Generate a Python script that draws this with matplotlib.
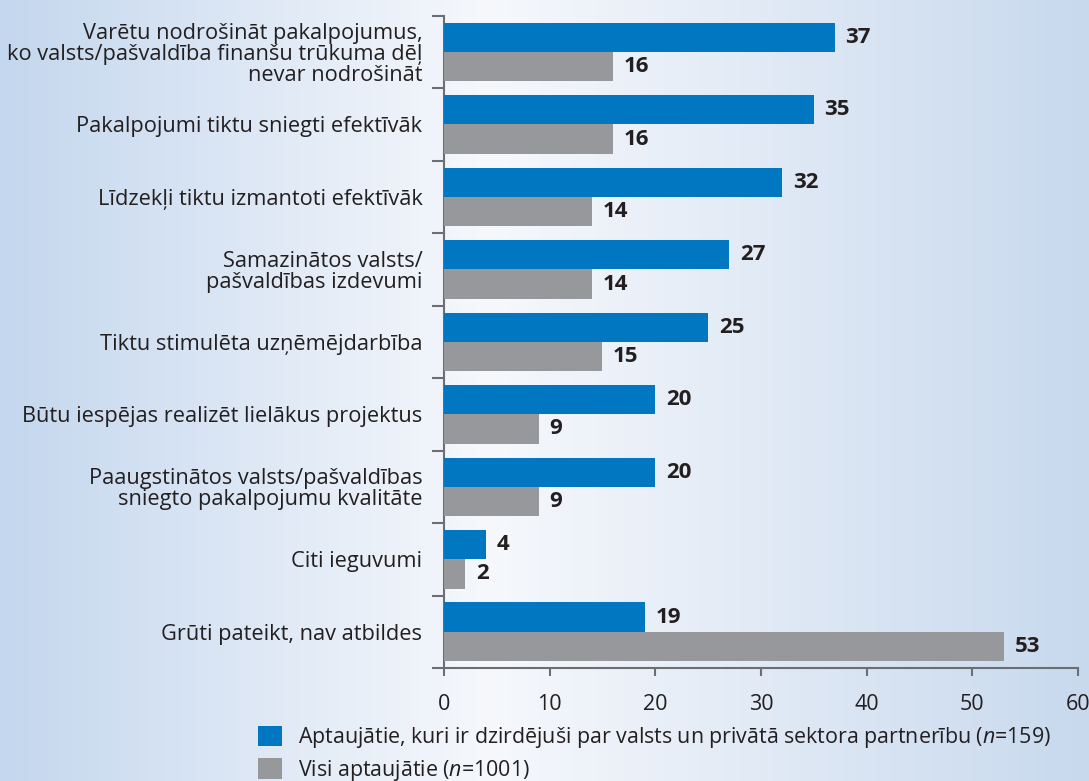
import numpy as np
import matplotlib
matplotlib.use("Agg")
import matplotlib.pyplot as plt
from matplotlib.colors import LinearSegmentedColormap
from matplotlib.patches import Patch

plt.rcParams['font.family'] = ['Open Sans', 'DejaVu Sans']
plt.rcParams['mathtext.fontset'] = 'custom'
plt.rcParams['mathtext.rm'] = 'Open Sans'
plt.rcParams['mathtext.it'] = 'Open Sans:italic'

# dati
categories = [
    "Varētu nodrošināt pakalpojumus,\nko valsts/pašvaldība finanšu trūkuma dēļ\nnevar nodrošināt",
    "Pakalpojumi tiktu sniegti efektīvāk",
    "Līdzekļi tiktu izmantoti efektīvāk",
    "Samazinātos valsts/\npašvaldības izdevumi",
    "Tiktu stimulēta uzņēmējdarbība",
    "Būtu iespējas realizēt lielākus projektus",
    "Paaugstinātos valsts/pašvaldības\nsniegto pakalpojumu kvalitāte",
    "Citi ieguvumi",
    "Grūti pateikt, nav atbildes",
]
heard_ppp = [37, 35, 32, 27, 25, 20, 20, 4, 19]
all_resp = [16, 16, 14, 14, 15, 9, 9, 2, 53]
series_labels = [
    "Aptaujātie, kuri ir dzirdējuši par valsts un privātā sektora partnerību ($\\mathit{n}$=159)",
    "Visi aptaujātie ($\\mathit{n}$=1001)",
]
x_ticks = [0, 10, 20, 30, 40, 50, 60]

BLUE = "#0077c0"
GREY = "#97989b"
AXIS = "#6d6e71"
TEXT = "#231f20"

fig = plt.figure(figsize=(10.89, 7.81), dpi=100)

# fons ar gradientu
bg = fig.add_axes([0, 0, 1, 1], zorder=-10)
cmap = LinearSegmentedColormap.from_list(
    "bg", [(0.0, "#c4d7ee"), (0.45, "#f6f8fc"), (1.0, "#c8d9ee")])
bg.imshow(np.linspace(0, 1, 256)[None, :], aspect="auto", cmap=cmap,
          extent=[0, 1, 0, 1])
bg.axis("off")

ax = fig.add_axes([0.4077, 0.1447, 0.5822, 0.8352])
ax.set_facecolor("none")

y = np.arange(len(categories))
h = 0.404
ax.barh(y - h / 2, heard_ppp, height=h, color=BLUE, zorder=3)
ax.barh(y + h / 2, all_resp, height=h, color=GREY, zorder=3)

for yi, v in zip(y, heard_ppp):
    ax.text(v + 1.0, yi - h / 2, str(v), va="center", ha="left",
            fontsize=16, fontweight="bold", color=TEXT)
for yi, v in zip(y, all_resp):
    ax.text(v + 1.0, yi + h / 2, str(v), va="center", ha="left",
            fontsize=16, fontweight="bold", color=TEXT)

ax.set_xlim(0, 60)
ax.set_ylim(len(categories) - 0.5, -0.5)
ax.set_xticks(x_ticks)
ax.set_xticklabels([str(t) for t in x_ticks], fontsize=15.5, color=TEXT)
ax.set_yticks(y)
ax.set_yticklabels(categories, fontsize=15.7, color=TEXT, linespacing=1.0)
ax.set_yticks(np.arange(len(categories) + 1) - 0.5, minor=True)
ax.tick_params(axis="y", which="major", length=0, pad=15.5)
ax.tick_params(axis="y", which="minor", length=9, width=1.5, color=AXIS,
               direction="out")
ax.tick_params(axis="x", length=6, width=1.5, color=AXIS, pad=13)

for s in ["top", "right"]:
    ax.spines[s].set_visible(False)
for s in ["left", "bottom"]:
    ax.spines[s].set_color(AXIS)
    ax.spines[s].set_linewidth(1.5)

handles = [Patch(facecolor=BLUE), Patch(facecolor=GREY)]
fig.legend(handles, series_labels, loc="upper left",
           bbox_to_anchor=(0.2365, 0.0714), frameon=False, fontsize=15.4,
           handlelength=1.15, handleheight=1.1, handletextpad=0.75,
           labelspacing=0.35, borderaxespad=0, borderpad=0,
           labelcolor=TEXT)

fig.savefig("out.png", dpi=100)
